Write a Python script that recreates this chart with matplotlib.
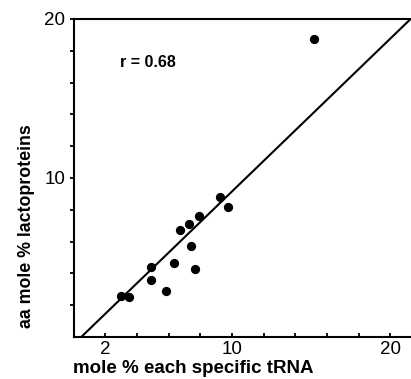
import matplotlib
matplotlib.use('Agg')
import matplotlib.pyplot as plt
import numpy as np

plt.rcParams['font.family'] = ['Liberation Sans', 'DejaVu Sans']

# mole % tRNA (x) vs aa mole % lactoproteins (y)
trna = [9.26, 9.74, 7.93, 7.30, 6.73, 7.43, 6.37, 7.68, 4.86, 4.90, 5.83, 2.97, 3.47, 15.2]
aa_mole = [8.82, 8.19, 7.63, 7.11, 6.71, 5.70, 4.65, 4.26, 4.38, 3.57, 2.91, 2.58, 2.52, 18.74]
fit_slope = 0.962
fit_intercept = -0.47
r_text = 'r = 0.68'

x_ticks = [2, 4, 6, 8, 10, 12, 14, 16, 18, 20]
x_ticklabels = ['2', '', '', '', '10', '', '', '', '', '20']
y_ticks = [2, 4, 6, 8, 10, 12, 14, 16, 18, 20]
y_ticklabels = ['', '', '', '', '10', '', '', '', '', '20']

fig = plt.figure(figsize=(4.11, 3.79), dpi=100)
ax = fig.add_axes([0.179, 0.111, 0.821, 0.839])

ax.scatter(trna, aa_mole, s=32, color='black', zorder=3)
xl = np.array([0, 22])
ax.plot(xl, fit_slope*xl + fit_intercept, color='black', lw=1.5)

ax.set_xlim(0, 21.3)
ax.set_ylim(0, 20)
ax.set_xticks(x_ticks)
ax.set_xticklabels(x_ticklabels)
ax.set_yticks(y_ticks)
ax.set_yticklabels(y_ticklabels)
ax.tick_params(axis='x', direction='in', length=3, width=1.3, labelsize=13.5, pad=3)
ax.tick_params(axis='y', direction='out', length=3, width=1.3, labelsize=13.5, pad=3)

for s in ['left', 'bottom', 'top']:
    ax.spines[s].set_linewidth(1.5)
ax.spines['right'].set_visible(False)

ax.text(0.138, 0.862, r_text, transform=ax.transAxes, fontsize=11.5,
        fontweight='bold', va='center')
ax.set_xlabel('mole % each specific tRNA', fontsize=13.5, fontweight='bold')
ax.xaxis.set_label_coords(0.354, -0.074)
ax.set_ylabel('aa mole % lactoproteins', fontsize=12.8, fontweight='bold')
ax.yaxis.set_label_coords(-0.114, 0.35)

fig.savefig('out.png', dpi=100)
